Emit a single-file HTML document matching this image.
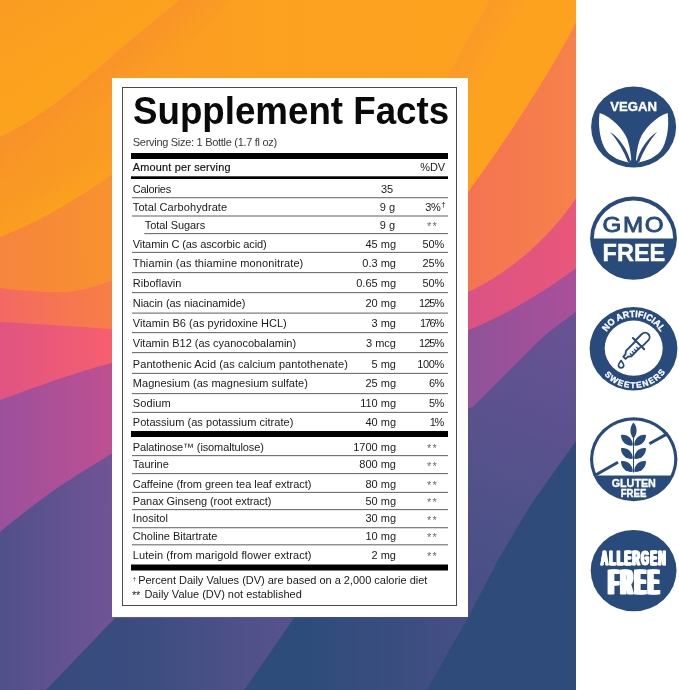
<!DOCTYPE html>
<html>
<head>
<meta charset="utf-8">
<title>Supplement Facts</title>
<style>
html,body{margin:0;padding:0;background:#fff;}
body{width:679px;height:690px;position:relative;overflow:hidden;font-family:"Liberation Sans",sans-serif;}
#bg{position:absolute;left:0;top:0;width:576px;height:690px;display:block;}
#panel{position:absolute;left:112px;top:78px;width:356px;height:539px;background:#fff;}
#frame{position:absolute;left:122px;top:87px;width:333px;height:517px;border:1px solid #4a4a4a;}
#rules{position:absolute;left:0;top:0;width:679px;height:690px;display:block;}
#title{position:absolute;left:133.0px;top:89.9px;font-size:38px;line-height:42px;font-weight:bold;color:#0a0a0a;white-space:nowrap;transform:scaleX(0.966);transform-origin:0 0;}
.t{position:absolute;white-space:nowrap;font-size:11px;line-height:14px;color:#1a1a1a;}
.r{width:80px;text-align:right;}
.st{color:#6a6a6a;font-size:11px;letter-spacing:1.4px;}
#badges{position:absolute;left:576px;top:0;width:103px;height:690px;display:block;}
#txt{position:absolute;left:0;top:0;width:679px;height:690px;will-change:transform;}
</style>
</head>
<body>
<svg id="bg" viewBox="0 0 576 690" width="576" height="690">
<defs>
<linearGradient id="g1" gradientUnits="userSpaceOnUse" x1="0" y1="0" x2="62" y2="100">
<stop offset="0" stop-color="#f99c22"/><stop offset="1" stop-color="#fca31c"/></linearGradient>
<linearGradient id="sA" gradientUnits="userSpaceOnUse" x1="58" y1="102" x2="78" y2="128.3">
<stop offset="0" stop-color="#f5783c" stop-opacity="0.2"/><stop offset="1" stop-color="#f5783c" stop-opacity="0"/></linearGradient>
<linearGradient id="hB" gradientUnits="userSpaceOnUse" x1="70" y1="202" x2="53" y2="171.4">
<stop offset="0" stop-color="#ffb90a" stop-opacity="0.2"/><stop offset="1" stop-color="#ffb90a" stop-opacity="0"/></linearGradient>
<linearGradient id="g2" gradientUnits="userSpaceOnUse" x1="0" y1="0" x2="576" y2="0">
<stop offset="0" stop-color="#f99825"/><stop offset="0.25" stop-color="#fa9c23"/><stop offset="0.5" stop-color="#fca11f"/><stop offset="1" stop-color="#fda21f"/></linearGradient>
<linearGradient id="g3" gradientUnits="userSpaceOnUse" x1="0" y1="0" x2="576" y2="0">
<stop offset="0" stop-color="#f6843f"/><stop offset="0.194" stop-color="#f8922e"/><stop offset="0.5" stop-color="#fb9f21"/><stop offset="1" stop-color="#fda21f"/></linearGradient>
<linearGradient id="g4" gradientUnits="userSpaceOnUse" x1="0" y1="0" x2="576" y2="0">
<stop offset="0" stop-color="#f46864"/><stop offset="0.194" stop-color="#f77f45"/><stop offset="0.82" stop-color="#f47452"/><stop offset="1" stop-color="#f6824a"/></linearGradient>
<linearGradient id="g5" gradientUnits="userSpaceOnUse" x1="0" y1="0" x2="576" y2="0">
<stop offset="0" stop-color="#e05482"/><stop offset="0.194" stop-color="#f65f6e"/><stop offset="0.82" stop-color="#db5283"/><stop offset="1" stop-color="#e9577a"/></linearGradient>
<linearGradient id="g6" gradientUnits="userSpaceOnUse" x1="0" y1="0" x2="576" y2="0">
<stop offset="0" stop-color="#9b509c"/><stop offset="0.194" stop-color="#be5091"/><stop offset="0.82" stop-color="#905298"/><stop offset="1" stop-color="#aa509a"/></linearGradient>
<linearGradient id="g7" gradientUnits="userSpaceOnUse" x1="0" y1="0" x2="576" y2="0">
<stop offset="0" stop-color="#50508a"/><stop offset="0.194" stop-color="#705496"/><stop offset="0.8" stop-color="#5c4c92"/><stop offset="1" stop-color="#644c94"/></linearGradient>
<linearGradient id="g8" gradientUnits="userSpaceOnUse" x1="60" y1="0" x2="290" y2="0">
<stop offset="0" stop-color="#364b7d"/><stop offset="0.39" stop-color="#3c4d80"/><stop offset="0.78" stop-color="#4e5188"/><stop offset="1" stop-color="#58528c"/></linearGradient>
<linearGradient id="g9" gradientUnits="userSpaceOnUse" x1="250" y1="0" x2="465" y2="0">
<stop offset="0" stop-color="#2e4c7a"/><stop offset="0.28" stop-color="#2e4c7a"/><stop offset="0.72" stop-color="#3c4d80"/><stop offset="1" stop-color="#464f86"/></linearGradient>
<linearGradient id="g7r" gradientUnits="userSpaceOnUse" x1="576" y1="312" x2="440" y2="680">
<stop offset="0" stop-color="#6a5294"/><stop offset="0.62" stop-color="#4c5188"/><stop offset="1" stop-color="#454f86"/></linearGradient>
<linearGradient id="gw" gradientUnits="userSpaceOnUse" x1="466" y1="42" x2="500" y2="61">
<stop offset="0" stop-color="#fa9a28"/><stop offset="1" stop-color="#fda21f"/></linearGradient>
</defs>
<rect x="0" y="0" width="576" height="690" fill="#fda21f"/>
<path d="M0,137 C40,118 80,85 112,56 C140,32 165,12 180,0 L576,0 L576,690 L0,690 Z" fill="url(#g2)"/>
<path d="M0,0 L180,0 C165,12 140,32 112,56 C80,85 40,118 0,137 Z" fill="url(#g1)"/>
<path d="M0,137 C40,118 80,85 112,56 C140,32 165,12 180,0 L232,0 L204,32 C189,44 164,64 136,88 C104,117 64,150 24,169 L0,181 Z" fill="url(#sA)"/>
<path d="M0,237 C40,222 80,197 112,175 L130,163 L130,120 L112,135 C80,157 40,182 0,197 Z" fill="url(#hB)"/>
<path d="M0,237 C40,222 80,197 112,175 C200,115 330,90 468,84 L576,84 L576,690 L0,690 Z" fill="url(#g3)"/>
<path d="M443,84 L490,0 L576,0 L576,200 L443,200 Z" fill="url(#gw)"/>
<path d="M0,288 C25,291 50,293 67,292 C85,290 100,285 112,280 C250,262 390,235 468,192 C501,148 556,64 576,22 L576,690 L0,690 Z" fill="url(#g4)"/>
<path d="M0,322 C40,324 80,327 112,329 C250,335 400,320 468,292 C500,278 545,245 576,198 L576,690 L0,690 Z" fill="url(#g5)"/>
<path d="M0,400 C20,393 35,387 50,382 C70,375 92,368 112,363 C250,335 400,345 468,330 C500,318 545,292 576,268 L576,690 L0,690 Z" fill="url(#g6)"/>
<path d="M0,532 C20,515 38,502 54,490 C75,476 95,464 111,454 L200,430 L400,430 L473,407 L540,340 C552,329 565,320 576,312 L576,690 L0,690 Z" fill="url(#g7)"/>
<path d="M290,430 L400,430 L473,407 L540,340 C552,329 565,320 576,312 L576,690 L290,690 Z" fill="url(#g7r)"/>
<path d="M46,690 L115,618 L294,618 L244,690 Z" fill="url(#g8)"/>
<path d="M244,690 L294,618 L468.5,617 L427,690 Z" fill="url(#g9)"/>
<path d="M576,441 L530,506 L498,560 L468.5,617 L447.7,653 L427,690 L576,690 Z" fill="#2e4b7a"/>
</svg>
<div id="panel"></div>
<div id="frame"></div>
<svg id="rules" viewBox="0 0 679 690" width="679" height="690">
<rect x="131" y="153.00" width="317" height="6.00" fill="#000"/>
<rect x="131" y="176.30" width="317" height="2.70" fill="#000"/>
<rect x="131" y="431.00" width="317" height="6.00" fill="#000"/>
<rect x="131" y="564.50" width="317" height="6.00" fill="#000"/>
<rect x="132.0" y="197.15" width="316.0" height="1.1" fill="#6e6e6e"/>
<rect x="132.0" y="215.45" width="316.0" height="1.1" fill="#6e6e6e"/>
<rect x="144.3" y="233.05" width="303.7" height="1.1" fill="#6e6e6e"/>
<rect x="132.0" y="251.85" width="316.0" height="1.1" fill="#6e6e6e"/>
<rect x="132.0" y="272.05" width="316.0" height="1.1" fill="#6e6e6e"/>
<rect x="132.0" y="292.05" width="316.0" height="1.1" fill="#6e6e6e"/>
<rect x="132.0" y="312.55" width="316.0" height="1.1" fill="#6e6e6e"/>
<rect x="132.0" y="332.05" width="316.0" height="1.1" fill="#6e6e6e"/>
<rect x="132.0" y="352.05" width="316.0" height="1.1" fill="#6e6e6e"/>
<rect x="132.0" y="372.85" width="316.0" height="1.1" fill="#6e6e6e"/>
<rect x="132.0" y="393.05" width="316.0" height="1.1" fill="#6e6e6e"/>
<rect x="132.0" y="411.85" width="316.0" height="1.1" fill="#6e6e6e"/>
<rect x="132.0" y="455.05" width="316.0" height="1.1" fill="#6e6e6e"/>
<rect x="132.0" y="473.05" width="316.0" height="1.1" fill="#6e6e6e"/>
<rect x="132.0" y="491.85" width="316.0" height="1.1" fill="#6e6e6e"/>
<rect x="132.0" y="509.05" width="316.0" height="1.1" fill="#6e6e6e"/>
<rect x="132.0" y="527.15" width="316.0" height="1.1" fill="#6e6e6e"/>
<rect x="132.0" y="544.25" width="316.0" height="1.1" fill="#6e6e6e"/>
</svg>
<div id="txt">
<div id="title">Supplement Facts</div>
<div class="t" style="left:132.80px;top:134.89px;font-size:11px;font-weight:normal;color:#3a3a3a;letter-spacing:-0.293px">Serving Size: 1 Bottle (1.7 fl oz)</div>
<div class="t" style="left:132.80px;top:159.72px;font-size:10.9px;font-weight:normal;color:#111;-webkit-text-stroke:0.18px #111;letter-spacing:0.192px">Amount per serving</div>
<div class="t" style="left:132.80px;top:181.89px;font-size:11px;font-weight:normal;color:#1a1a1a;letter-spacing:-0.282px">Calories</div>
<div class="t" style="left:132.80px;top:200.19px;font-size:11px;font-weight:normal;color:#1a1a1a;letter-spacing:0.080px">Total Carbohydrate</div>
<div class="t" style="left:144.80px;top:217.79px;font-size:11px;font-weight:normal;color:#1a1a1a;letter-spacing:-0.071px">Total Sugars</div>
<div class="t" style="left:132.80px;top:236.69px;font-size:11px;font-weight:normal;color:#1a1a1a;letter-spacing:-0.105px">Vitamin C (as ascorbic acid)</div>
<div class="t" style="left:132.80px;top:255.99px;font-size:11px;font-weight:normal;color:#1a1a1a;letter-spacing:0.112px">Thiamin (as thiamine mononitrate)</div>
<div class="t" style="left:132.80px;top:276.09px;font-size:11px;font-weight:normal;color:#1a1a1a;letter-spacing:0.039px">Riboflavin</div>
<div class="t" style="left:132.80px;top:296.09px;font-size:11px;font-weight:normal;color:#1a1a1a;letter-spacing:-0.075px">Niacin (as niacinamide)</div>
<div class="t" style="left:132.80px;top:316.29px;font-size:11px;font-weight:normal;color:#1a1a1a;letter-spacing:0.022px">Vitamin B6 (as pyridoxine HCL)</div>
<div class="t" style="left:132.80px;top:335.99px;font-size:11px;font-weight:normal;color:#1a1a1a;letter-spacing:-0.012px">Vitamin B12 (as cyanocobalamin)</div>
<div class="t" style="left:132.80px;top:356.69px;font-size:11px;font-weight:normal;color:#1a1a1a;letter-spacing:0.084px">Pantothenic Acid (as calcium pantothenate)</div>
<div class="t" style="left:132.80px;top:375.89px;font-size:11px;font-weight:normal;color:#1a1a1a;letter-spacing:0.027px">Magnesium (as magnesium sulfate)</div>
<div class="t" style="left:132.80px;top:396.09px;font-size:11px;font-weight:normal;color:#1a1a1a;letter-spacing:0.134px">Sodium</div>
<div class="t" style="left:132.80px;top:414.59px;font-size:11px;font-weight:normal;color:#1a1a1a;letter-spacing:0.032px">Potassium (as potassium citrate)</div>
<div class="t" style="left:132.80px;top:439.79px;font-size:11px;font-weight:normal;color:#1a1a1a;letter-spacing:-0.115px">Palatinose™ (isomaltulose)</div>
<div class="t" style="left:132.80px;top:457.49px;font-size:11px;font-weight:normal;color:#1a1a1a;letter-spacing:-0.011px">Taurine</div>
<div class="t" style="left:132.80px;top:476.69px;font-size:11px;font-weight:normal;color:#1a1a1a;letter-spacing:-0.025px">Caffeine (from green tea leaf extract)</div>
<div class="t" style="left:132.80px;top:493.99px;font-size:11px;font-weight:normal;color:#1a1a1a;letter-spacing:-0.076px">Panax Ginseng (root extract)</div>
<div class="t" style="left:132.80px;top:511.29px;font-size:11px;font-weight:normal;color:#1a1a1a;letter-spacing:0.043px">Inositol</div>
<div class="t" style="left:132.80px;top:528.69px;font-size:11px;font-weight:normal;color:#1a1a1a;letter-spacing:-0.022px">Choline Bitartrate</div>
<div class="t" style="left:132.80px;top:547.69px;font-size:11px;font-weight:normal;color:#1a1a1a;letter-spacing:0.074px">Lutein (from marigold flower extract)</div>
<div class="t" style="left:138.20px;top:572.79px;font-size:11px;font-weight:normal;color:#1a1a1a;letter-spacing:-0.019px">Percent Daily Values (DV) are based on a 2,000 calorie diet</div>
<div class="t" style="left:144.40px;top:587.19px;font-size:11px;font-weight:normal;color:#1a1a1a;letter-spacing:-0.005px">Daily Value (DV) not established</div>
<div class="t r" style="left:313.20px;top:181.89px">35</div>
<div class="t r" style="left:315.00px;top:200.19px">9 g</div>
<div class="t r" style="left:315.00px;top:217.79px">9 g</div>
<div class="t r" style="left:316.00px;top:236.69px">45 mg</div>
<div class="t r" style="left:316.00px;top:255.99px">0.3 mg</div>
<div class="t r" style="left:316.00px;top:276.09px">0.65 mg</div>
<div class="t r" style="left:316.00px;top:296.09px">20 mg</div>
<div class="t r" style="left:316.00px;top:316.29px">3 mg</div>
<div class="t r" style="left:316.00px;top:335.99px">3 mcg</div>
<div class="t r" style="left:316.00px;top:356.69px">5 mg</div>
<div class="t r" style="left:316.00px;top:375.89px">25 mg</div>
<div class="t r" style="left:316.00px;top:396.09px">110 mg</div>
<div class="t r" style="left:316.00px;top:414.59px">40 mg</div>
<div class="t r" style="left:316.00px;top:439.79px">1700 mg</div>
<div class="t r" style="left:316.00px;top:457.49px">800 mg</div>
<div class="t r" style="left:316.00px;top:476.69px">80 mg</div>
<div class="t r" style="left:316.00px;top:493.99px">50 mg</div>
<div class="t r" style="left:316.00px;top:511.29px">30 mg</div>
<div class="t r" style="left:316.00px;top:528.69px">10 mg</div>
<div class="t r" style="left:316.00px;top:547.69px">2 mg</div>
<div class="t r" style="left:365.10px;top:160.09px;letter-spacing:-0.10px">%DV</div>
<div class="t r" style="left:360.50px;top:200.19px;letter-spacing:-0.30px">3%</div>
<div class="t r" style="left:364.00px;top:236.69px;letter-spacing:-0.20px">50%</div>
<div class="t r" style="left:364.00px;top:255.99px;letter-spacing:-0.20px">25%</div>
<div class="t r" style="left:364.00px;top:276.09px;letter-spacing:-0.20px">50%</div>
<div class="t r" style="left:363.20px;top:296.09px;letter-spacing:-1.00px">125%</div>
<div class="t r" style="left:362.90px;top:316.29px;letter-spacing:-1.30px">176%</div>
<div class="t r" style="left:363.20px;top:335.99px;letter-spacing:-1.00px">125%</div>
<div class="t r" style="left:363.80px;top:356.69px;letter-spacing:-0.40px">100%</div>
<div class="t r" style="left:363.60px;top:375.89px;letter-spacing:-0.60px">6%</div>
<div class="t r" style="left:363.60px;top:396.09px;letter-spacing:-0.60px">5%</div>
<div class="t r" style="left:362.80px;top:414.59px;letter-spacing:-1.40px">1%</div>
<div class="t st" style="left:426.9px;top:219.29px">**</div>
<div class="t st" style="left:426.9px;top:441.29px">**</div>
<div class="t st" style="left:426.9px;top:458.99px">**</div>
<div class="t st" style="left:426.9px;top:478.19px">**</div>
<div class="t st" style="left:426.9px;top:495.49px">**</div>
<div class="t st" style="left:426.9px;top:512.79px">**</div>
<div class="t st" style="left:426.9px;top:530.19px">**</div>
<div class="t st" style="left:426.9px;top:549.19px">**</div>
<div class="t" style="left:441.2px;top:198.23px;font-size:8px">†</div>
<div class="t" style="left:132.8px;top:571.62px;font-size:6px">†</div>
<div class="t" style="left:132.0px;top:587.79px;font-size:11px;letter-spacing:-0.2px">**</div>
</div>
<svg id="badges" viewBox="0 0 103 690" width="103" height="690" font-family="'Liberation Sans', sans-serif" font-weight="bold">
<defs>
<path id="arcTop" d="M25.9,348.8 A31.8,31.8 0 0 1 89.5,348.8"/>
<path id="arcBot" d="M18.4,348.8 A39.3,39.3 0 0 0 97.0,348.8"/>
</defs>
<!-- 1 VEGAN -->
<ellipse cx="57.6" cy="127.1" rx="42.5" ry="40.5" fill="#284b7c"/>
<text x="34.2" y="111.2" font-size="13.5" fill="#fff" stroke="#fff" stroke-width="0.35" textLength="46.8" lengthAdjust="spacingAndGlyphs">VEGAN</text>
<g transform="translate(57.6,127.1)">
<path d="M-34,-14 C-22,-10 -10,2 -6,13 C-3.5,21 -2.6,28 -2.4,33 L-4.6,35.3 C-14,34 -22,30 -27,24 C-33,16 -36,0 -34,-14 Z" fill="#fff"/>
<path d="M34,-14 C22,-10 10,2 6,13 C3.5,21 2.6,28 2.4,33 L4.6,35.3 C14,34 22,30 27,24 C33,16 36,0 34,-14 Z" fill="#fff"/>
<path d="M-23.5,4.6 C-13.6,11.6 -6.4,22 -2.8,34.8 L-5.6,34.8 C-9.4,24.4 -15.6,14 -23.5,4.6 Z" fill="#284b7c"/>
<path d="M23.5,4.6 C13.6,11.6 6.4,22 2.8,34.8 L5.6,34.8 C9.4,24.4 15.6,14 23.5,4.6 Z" fill="#284b7c"/>
</g>
<!-- 2 GMO FREE -->
<ellipse cx="57.5" cy="238.2" rx="43.4" ry="41.6" fill="#284b7c"/>
<path d="M17.8,238.5 A39.7,37.9 0 0 1 97.2,238.5 Z" fill="#fff"/>
<text transform="translate(26.6,231.5) scale(1.13,1)" x="0" y="0" font-size="21.4" font-weight="normal" fill="#284b7c" stroke="#284b7c" stroke-width="0.85" letter-spacing="1.4">GMO</text>
<text x="26.6" y="260.6" font-size="23.4" fill="#fff" stroke="#fff" stroke-width="0.4" textLength="62.6" lengthAdjust="spacingAndGlyphs">FREE</text>
<!-- 3 NO ARTIFICIAL SWEETENERS -->
<ellipse cx="57.5" cy="348.8" rx="43.9" ry="41.7" fill="#284b7c"/>
<ellipse cx="57.7" cy="348.2" rx="29" ry="27.6" fill="#fff"/>
<text font-size="9.2" fill="#fff" stroke="#fff" stroke-width="0.35" text-anchor="middle" textLength="64.5" lengthAdjust="spacingAndGlyphs"><textPath href="#arcTop" startOffset="50%">NO ARTIFICIAL</textPath></text>
<text font-size="8.4" fill="#fff" stroke="#fff" stroke-width="0.3" text-anchor="middle" textLength="70" lengthAdjust="spacing" transform="rotate(-2.5 57.5 348.8)"><textPath href="#arcBot" startOffset="50%">SWEETENERS</textPath></text>
<g transform="translate(57.6,348.6) rotate(45)" fill="none" stroke="#284b7c" stroke-width="1.9" stroke-linejoin="round" stroke-linecap="round">
<path d="M-4.5,-7 L-4.5,-16.2 A4.5,4.5 0 0 1 4.5,-16.2 L4.5,-7"/>
<path d="M-3.8,-7 L-3.8,7 L-1.6,10 L-1.6,13 L1.6,13 L1.6,10 L3.8,7 L3.8,-7"/>
<path d="M-8,-7 L8,-7" stroke-width="2"/>
<path d="M3.8,-3 L1.2,-3 M3.8,0 L1.2,0 M3.8,3 L1.2,3 M3.8,6 L1.2,6" stroke-width="1.3"/>
</g>
<path d="M45.1,360.6 C43.6,362.6 42.5,363.6 42.5,365.2 A2.6,2.6 0 0 0 47.7,365.2 C47.7,363.6 46.6,362.6 45.1,360.6 Z" fill="#fff" stroke="#284b7c" stroke-width="1.7" stroke-linejoin="round"/>
<!-- 4 GLUTEN FREE -->
<ellipse cx="57.7" cy="459.3" rx="43.7" ry="42" fill="#284b7c"/>
<path d="M20.9,475.5 A40.5,38.8 0 1 1 94.5,475.5 Z" fill="#fff"/>
<path d="M20,474.8 L42,462.2 M73.4,443.8 L92,433.4" stroke="#284b7c" stroke-width="3" fill="none"/>
<path d="M57.5,437 L57.5,472.5" stroke="#284b7c" stroke-width="1" fill="none"/>
<g fill="#284b7c">
<path d="M57.5,422.5 C61.6,427 61.6,434 57.5,438.7 C53.4,434 53.4,427 57.5,422.5 Z"/>
<path d="M45,435 C51.5,434 57,439 56.8,445.6 C50,446.5 45,441.5 45,435 Z"/>
<path d="M70,435 C63.5,434 58,439 58.2,445.6 C65,446.5 70,441.5 70,435 Z"/>
<path d="M45,448.2 C51.5,447.2 57,452.2 56.8,458.8 C50,459.7 45,454.7 45,448.2 Z"/>
<path d="M70,448.2 C63.5,447.2 58,452.2 58.2,458.8 C65,459.7 70,454.7 70,448.2 Z"/>
<path d="M45,461.2 C51.5,460.2 57,465.2 56.8,471.8 C50,472.7 45,467.7 45,461.2 Z"/>
<path d="M70,461.2 C63.5,460.2 58,465.2 58.2,471.8 C65,472.7 70,467.7 70,461.2 Z"/>
</g>
<text x="35.7" y="487" font-size="10.6" fill="#fff" stroke="#fff" stroke-width="0.35" textLength="44.2" lengthAdjust="spacingAndGlyphs">GLUTEN</text>
<text x="44.7" y="497" font-size="10.2" fill="#fff" stroke="#fff" stroke-width="0.35" textLength="25.8" lengthAdjust="spacingAndGlyphs">FREE</text>
<!-- 5 ALLERGEN FREE -->
<ellipse cx="57.6" cy="570.6" rx="42.9" ry="40.7" fill="#284b7c"/>
<g id="alg" transform="translate(23.9,565.3) scale(0.478,1)" fill="#fff" stroke="#fff" stroke-width="0.25" font-size="21" letter-spacing="2.9">
<text x="0.00" y="0">ALLERGEN</text>
<text x="0.98" y="0">ALLERGEN</text>
<text x="1.95" y="0">ALLERGEN</text>
<text x="2.92" y="0">ALLERGEN</text>
<text x="3.90" y="0">ALLERGEN</text>
</g>
<g id="fre" transform="translate(30.7,594.2) scale(0.427,1)" fill="#fff" stroke="#fff" stroke-width="0.3" font-size="35.8" letter-spacing="7">
<text x="0.00" y="0">FREE</text>
<text x="2.50" y="0">FREE</text>
<text x="5.00" y="0">FREE</text>
<text x="7.50" y="0">FREE</text>
<text x="10.00" y="0">FREE</text>
</g>
</svg>
</body></html>
